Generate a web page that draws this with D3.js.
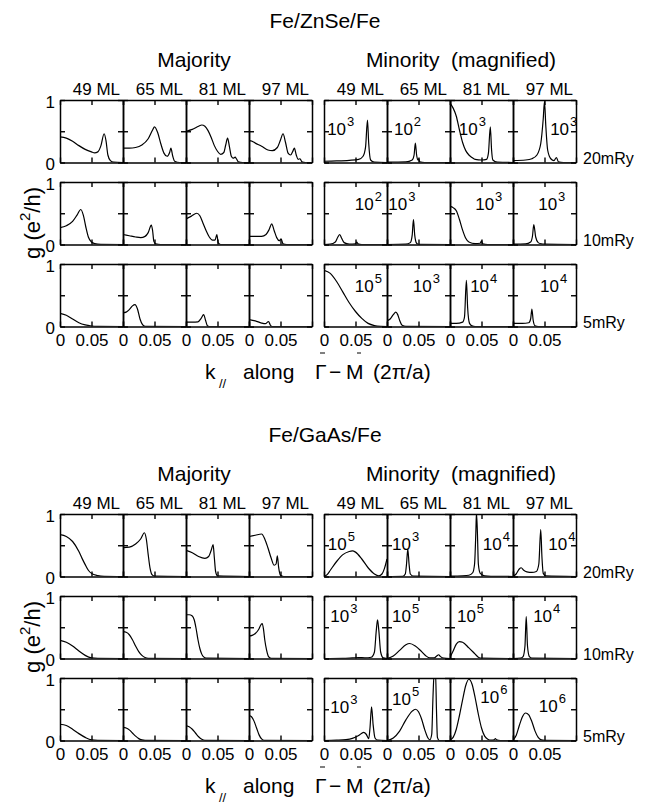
<!DOCTYPE html>
<html><head><meta charset="utf-8">
<script src="https://cdn.jsdelivr.net/npm/d3@7"></script>
<style>
body{margin:0;background:#fff}
svg{display:block}
text{font-family:"Liberation Sans",Arial,Helvetica,sans-serif;fill:#000}
</style>
</head><body>
<svg id="c" width="654" height="804"></svg>
<script>
// ---------- labels ----------
const systems = ["Fe/ZnSe/Fe", "Fe/GaAs/Fe"];
const spins = ["Majority", "Minority  (magnified)"];
const thicknesses = ["49 ML", "65 ML", "81 ML", "97 ML"];
const broadenings = ["20mRy", "10mRy", "5mRy"];
const kTicks = [0, 0.05, 0.1];
const kTickLabels = ["0", "0.05", ""];
const gTicks = [0, 0.5, 1];
const gTickLabels = ["0", "", "1"];

// ---------- Fe/ZnSe/Fe majority : [k, g] ----------
const znseMaj20 = [
 [[0,0.41],[0.01,0.39],[0.02,0.34],[0.03,0.27],[0.04,0.21],[0.05,0.17],[0.055,0.155],[0.06,0.17],[0.065,0.27],[0.07,0.46],[0.073,0.35],[0.076,0.12],[0.08,0.03],[0.085,0.005],[0.1,0]],
 [[0,0.23],[0.01,0.23],[0.02,0.24],[0.03,0.28],[0.04,0.38],[0.047,0.52],[0.05,0.57],[0.055,0.48],[0.06,0.3],[0.065,0.15],[0.07,0.1],[0.074,0.16],[0.076,0.23],[0.079,0.1],[0.082,0.02],[0.09,0],[0.1,0]],
 [[0,0.5],[0.01,0.53],[0.02,0.58],[0.025,0.6],[0.03,0.58],[0.035,0.51],[0.04,0.4],[0.045,0.27],[0.05,0.18],[0.055,0.13],[0.06,0.16],[0.063,0.28],[0.066,0.39],[0.069,0.25],[0.072,0.1],[0.075,0.07],[0.078,0.085],[0.08,0.06],[0.083,0.01],[0.09,0],[0.1,0]],
 [[0,0.35],[0.005,0.34],[0.01,0.31],[0.02,0.26],[0.03,0.2],[0.037,0.19],[0.045,0.24],[0.05,0.36],[0.054,0.46],[0.058,0.32],[0.062,0.15],[0.066,0.12],[0.07,0.19],[0.072,0.23],[0.075,0.12],[0.078,0.05],[0.081,0.06],[0.084,0.01],[0.09,0],[0.1,0]]
];
const znseMaj10 = [
 [[0,0.27],[0.01,0.3],[0.02,0.37],[0.027,0.47],[0.033,0.56],[0.037,0.47],[0.041,0.28],[0.045,0.12],[0.05,0.04],[0.055,0.015],[0.065,0.003],[0.1,0]],
 [[0,0.16],[0.01,0.14],[0.02,0.12],[0.028,0.11],[0.035,0.13],[0.04,0.19],[0.045,0.31],[0.047,0.22],[0.049,0.05],[0.052,0.01],[0.06,0],[0.1,0]],
 [[0,0.41],[0.008,0.45],[0.017,0.5],[0.022,0.46],[0.027,0.34],[0.032,0.22],[0.037,0.12],[0.042,0.07],[0.046,0.07],[0.049,0.16],[0.051,0.03],[0.055,0],[0.1,0]],
 [[0,0.13],[0.01,0.13],[0.02,0.13],[0.027,0.16],[0.032,0.24],[0.036,0.33],[0.04,0.22],[0.044,0.11],[0.048,0.06],[0.051,0.09],[0.054,0.01],[0.06,0],[0.1,0]]
];
const znseMaj5 = [
 [[0,0.21],[0.01,0.18],[0.02,0.12],[0.03,0.06],[0.04,0.025],[0.05,0.008],[0.06,0.002],[0.1,0]],
 [[0,0.22],[0.005,0.23],[0.01,0.27],[0.015,0.33],[0.019,0.35],[0.023,0.28],[0.027,0.12],[0.031,0.03],[0.035,0.003],[0.1,0]],
 [[0,0.07],[0.01,0.07],[0.019,0.075],[0.024,0.13],[0.028,0.19],[0.031,0.1],[0.034,0.01],[0.037,0],[0.1,0]],
 [[0,0.11],[0.01,0.09],[0.02,0.055],[0.026,0.045],[0.031,0.08],[0.034,0.02],[0.037,0],[0.1,0]]
];
// ---------- Fe/ZnSe/Fe minority (magnified) ----------
const znseMin20 = [
 [[0,0.02],[0.02,0.025],[0.04,0.035],[0.055,0.05],[0.062,0.1],[0.066,0.25],[0.069,0.68],[0.071,0.3],[0.074,0.04],[0.08,0.005],[0.1,0]],
 [[0,0.005],[0.03,0.01],[0.04,0.04],[0.043,0.12],[0.045,0.31],[0.047,0.12],[0.049,0.04],[0.0505,0.06],[0.052,0.01],[0.06,0],[0.1,0]],
 [[0,0.95],[0.005,0.87],[0.01,0.74],[0.015,0.52],[0.02,0.32],[0.025,0.19],[0.03,0.12],[0.035,0.08],[0.04,0.05],[0.05,0.04],[0.058,0.05],[0.061,0.15],[0.064,0.57],[0.066,0.2],[0.068,0.04],[0.075,0.005],[0.1,0]],
 [[0,0.03],[0.02,0.04],[0.03,0.06],[0.038,0.12],[0.044,0.3],[0.048,0.7],[0.05,0.98],[0.052,0.6],[0.055,0.2],[0.06,0.06],[0.065,0.03],[0.069,0.08],[0.072,0.01],[0.08,0],[0.1,0]]
];
const znseMin10 = [
 [[0,0],[0.01,0.005],[0.018,0.04],[0.022,0.12],[0.025,0.16],[0.028,0.1],[0.032,0.03],[0.04,0.005],[0.05,0.01],[0.052,0.04],[0.054,0.01],[0.06,0],[0.1,0]],
 [[0,0],[0.03,0.005],[0.037,0.03],[0.04,0.15],[0.042,0.4],[0.044,0.15],[0.047,0.02],[0.05,0.003],[0.1,0]],
 [[0,0.61],[0.005,0.59],[0.01,0.54],[0.015,0.4],[0.02,0.23],[0.025,0.1],[0.03,0.04],[0.04,0.015],[0.048,0.02],[0.05,0.06],[0.052,0.01],[0.06,0],[0.1,0]],
 [[0,0.005],[0.02,0.01],[0.028,0.04],[0.031,0.14],[0.033,0.32],[0.036,0.12],[0.04,0.03],[0.045,0.01],[0.05,0.005],[0.1,0]]
];
const znseMin5 = [
 [[0,0.9],[0.01,0.85],[0.02,0.72],[0.03,0.55],[0.04,0.38],[0.05,0.24],[0.06,0.13],[0.07,0.05],[0.08,0.015],[0.09,0.003],[0.1,0]],
 [[0,0.09],[0.005,0.12],[0.01,0.19],[0.014,0.23],[0.017,0.19],[0.02,0.1],[0.024,0.02],[0.03,0.003],[0.1,0]],
 [[0,0.05],[0.01,0.05],[0.02,0.07],[0.023,0.15],[0.026,0.74],[0.028,0.3],[0.031,0.05],[0.035,0.01],[0.04,0],[0.1,0]],
 [[0,0.05],[0.015,0.05],[0.025,0.06],[0.028,0.12],[0.03,0.28],[0.032,0.1],[0.035,0.01],[0.04,0],[0.1,0]]
];
// ---------- Fe/GaAs/Fe majority ----------
const gaasMaj20 = [
 [[0,0.67],[0.01,0.64],[0.02,0.56],[0.03,0.4],[0.035,0.29],[0.04,0.19],[0.045,0.1],[0.05,0.05],[0.06,0.015],[0.07,0.003],[0.1,0]],
 [[0,0.46],[0.01,0.47],[0.02,0.52],[0.028,0.6],[0.034,0.7],[0.037,0.6],[0.04,0.35],[0.043,0.13],[0.046,0.03],[0.05,0.005],[0.1,0]],
 [[0,0.42],[0.01,0.38],[0.02,0.32],[0.03,0.29],[0.036,0.32],[0.04,0.42],[0.043,0.51],[0.045,0.3],[0.047,0.08],[0.05,0.01],[0.1,0]],
 [[0,0.64],[0.01,0.66],[0.02,0.68],[0.025,0.6],[0.03,0.46],[0.035,0.3],[0.04,0.18],[0.043,0.2],[0.045,0.33],[0.047,0.15],[0.05,0.02],[0.055,0],[0.1,0]]
];
const gaasMaj10 = [
 [[0,0.29],[0.01,0.26],[0.02,0.2],[0.03,0.12],[0.04,0.05],[0.05,0.01],[0.06,0.002],[0.1,0]],
 [[0,0.43],[0.005,0.42],[0.01,0.38],[0.015,0.3],[0.02,0.2],[0.025,0.11],[0.03,0.05],[0.035,0.015],[0.04,0.003],[0.1,0]],
 [[0,0.7],[0.005,0.7],[0.01,0.68],[0.013,0.62],[0.016,0.48],[0.019,0.3],[0.022,0.16],[0.025,0.07],[0.028,0.025],[0.032,0.005],[0.1,0]],
 [[0,0.36],[0.005,0.37],[0.01,0.4],[0.015,0.46],[0.019,0.54],[0.021,0.56],[0.023,0.47],[0.025,0.3],[0.028,0.13],[0.031,0.03],[0.035,0.003],[0.1,0]]
];
const gaasMaj5 = [
 [[0,0.26],[0.01,0.24],[0.02,0.18],[0.03,0.11],[0.04,0.05],[0.05,0.01],[0.06,0.002],[0.1,0]],
 [[0,0.21],[0.005,0.2],[0.01,0.17],[0.015,0.12],[0.02,0.07],[0.025,0.03],[0.03,0.01],[0.035,0.002],[0.1,0]],
 [[0,0.24],[0.005,0.22],[0.01,0.18],[0.015,0.12],[0.02,0.06],[0.025,0.02],[0.03,0.003],[0.1,0]],
 [[0,0.4],[0.004,0.38],[0.008,0.31],[0.012,0.2],[0.016,0.09],[0.02,0.025],[0.024,0.003],[0.1,0]]
];
// ---------- Fe/GaAs/Fe minority (magnified) ----------
const gaasMin20 = [
 [[0,0],[0.005,0.03],[0.01,0.1],[0.02,0.24],[0.03,0.35],[0.04,0.4],[0.045,0.41],[0.05,0.39],[0.06,0.28],[0.07,0.14],[0.08,0.04],[0.087,0.01],[0.092,0.04],[0.096,0.13],[0.1,0.28]],
 [[0,0],[0.025,0.003],[0.029,0.04],[0.031,0.2],[0.033,0.44],[0.035,0.2],[0.037,0.04],[0.042,0.005],[0.1,0]],
 [[0,0.005],[0.02,0.01],[0.03,0.02],[0.036,0.06],[0.039,0.2],[0.041,0.7],[0.042,1.02],[0.0435,0.7],[0.045,0.2],[0.048,0.05],[0.055,0.01],[0.065,0.003],[0.1,0]],
 [[0,0.005],[0.005,0.04],[0.01,0.12],[0.013,0.14],[0.017,0.1],[0.022,0.075],[0.03,0.065],[0.037,0.08],[0.041,0.2],[0.044,0.75],[0.046,0.3],[0.048,0.05],[0.052,0.01],[0.1,0]]
];
const gaasMin10 = [
 [[0,0],[0.03,0.003],[0.045,0.01],[0.055,0.015],[0.065,0.01],[0.075,0.02],[0.08,0.1],[0.083,0.45],[0.085,0.62],[0.087,0.45],[0.09,0.1],[0.094,0.01],[0.1,0]],
 [[0,0],[0.01,0.04],[0.02,0.13],[0.03,0.22],[0.036,0.24],[0.045,0.2],[0.055,0.11],[0.062,0.04],[0.068,0.01],[0.075,0.01],[0.079,0.04],[0.082,0.06],[0.085,0.03],[0.09,0.005],[0.1,0]],
 [[0,0.02],[0.005,0.12],[0.01,0.23],[0.015,0.27],[0.02,0.26],[0.03,0.17],[0.04,0.07],[0.045,0.02],[0.05,0.005],[0.1,0]],
 [[0,0],[0.012,0.005],[0.016,0.03],[0.019,0.2],[0.021,0.67],[0.023,0.2],[0.026,0.03],[0.03,0.005],[0.1,0]]
];
const gaasMin5 = [
 [[0,0],[0.02,0.005],[0.035,0.015],[0.045,0.035],[0.055,0.08],[0.063,0.13],[0.067,0.1],[0.071,0.03],[0.073,0.2],[0.0755,0.54],[0.078,0.25],[0.081,0.04],[0.085,0.005],[0.1,0]],
 [[0,0],[0.01,0.04],[0.02,0.15],[0.03,0.33],[0.04,0.47],[0.045,0.5],[0.05,0.46],[0.055,0.34],[0.06,0.17],[0.065,0.04],[0.068,0.01],[0.071,0.1],[0.073,0.7],[0.075,1.1],[0.077,1.1],[0.0785,0.5],[0.08,0.05],[0.083,0],[0.1,0]],
 [[0,0.01],[0.005,0.05],[0.01,0.18],[0.015,0.4],[0.02,0.65],[0.025,0.88],[0.03,0.98],[0.035,0.9],[0.04,0.68],[0.045,0.42],[0.05,0.2],[0.055,0.07],[0.06,0.02],[0.065,0.005],[0.07,0.01],[0.072,0.03],[0.074,0.01],[0.08,0],[0.1,0]],
 [[0,0.01],[0.005,0.08],[0.01,0.24],[0.015,0.38],[0.02,0.44],[0.025,0.41],[0.03,0.3],[0.035,0.15],[0.04,0.05],[0.045,0.01],[0.05,0.002],[0.1,0]]
];

// magnification exponents (10^n) of minority panels, by row
const znseMinExp = [["3","2","3","3"], ["2","3","3","3"], ["5","3","4","4"]];
const gaasMinExp = [["5","3","4","4"], ["3","5","5","4"], ["3","5","6","6"]];
// anchor of each magnification label in data coordinates [k, g]
const znseMinExpAt = [
 [[0.005,0.44],[0.011,0.44],[0.014,0.44],[0.059,0.44]],
 [[0.049,0.55],[0.002,0.55],[0.04,0.55],[0.04,0.55]],
 [[0.049,0.55],[0.041,0.55],[0.032,0.55],[0.043,0.55]]
];
const gaasMinExpAt = [
 [[0.006,0.43],[0.008,0.43],[0.052,0.43],[0.056,0.43]],
 [[0.01,0.58],[0.008,0.58],[0.011,0.58],[0.032,0.58]],
 [[0.01,0.44],[0.008,0.57],[0.048,0.6],[0.041,0.46]]
];

// ---------- assembled per system ----------
const sections = [
  {maj:[znseMaj20, znseMaj10, znseMaj5], min:[znseMin20, znseMin10, znseMin5], exp:znseMinExp, expAt:znseMinExpAt},
  {maj:[gaasMaj20, gaasMaj10, gaasMaj5], min:[gaasMin20, gaasMin10, gaasMin5], exp:gaasMinExp, expAt:gaasMinExpAt}
];

// ---------- layout ----------
const PW = 63, PH = 62.5;
const colX0 = [60, 324];
const rowTop0 = 100, rowPitch = 82, sectionPitch = 414;
const FONT = '"Liberation Sans",Arial,Helvetica,sans-serif';

const svg = d3.select("#c");
const x = d3.scaleLinear().domain([0, 0.1]).range([0, PW]);
const y = d3.scaleLinear().domain([0, 1]).range([PH, 0]);
const line = d3.line().x(d => x(d[0])).y(d => y(d[1])).curve(d3.curveMonotoneX);

svg.append("defs").append("clipPath").attr("id","pclip")
  .append("rect").attr("x",0).attr("y",0).attr("width",PW).attr("height",PH);

function styleAxis(g){
  g.selectAll(".domain").attr("stroke","#000").attr("stroke-width",1.5);
  g.selectAll(".tick line").attr("stroke","#000").attr("stroke-width",1.4);
  g.selectAll("text").attr("font-family",FONT).attr("font-size",17).attr("fill","#000");
}

sections.forEach((sec, s) => {
  const oy = s * sectionPitch;
  // titles
  svg.append("text").attr("x",325).attr("y",28+oy).attr("text-anchor","middle")
     .attr("font-size",21).text(systems[s]);
  svg.append("text").attr("x",194).attr("y",67+oy).attr("text-anchor","middle")
     .attr("font-size",21).text(spins[0]);
  svg.append("text").attr("x",461).attr("y",67+oy).attr("text-anchor","middle")
     .attr("font-size",21).attr("xml:space","preserve").style("white-space","pre").text(spins[1]);

  [sec.maj, sec.min].forEach((rows, side) => {
    // thickness headers
    thicknesses.forEach((t, c) => {
      svg.append("text").attr("x", colX0[side] + (c+1)*PW - 3).attr("y", rowTop0 + oy - 5)
        .attr("text-anchor","end").attr("font-size",17).text(t);
    });
    rows.forEach((panels, r) => {
      panels.forEach((pts, c) => {
        const g = svg.append("g")
          .attr("transform", `translate(${colX0[side] + c*PW},${rowTop0 + r*rowPitch + oy})`);
        g.append("path").datum(pts).attr("d", line).attr("fill","none")
          .attr("stroke","#000").attr("stroke-width",1.2).attr("clip-path","url(#pclip)");
        const isBottom = r === rows.length - 1;
        const isLeft = side === 0 && c === 0;
        const ab = d3.axisBottom(x).tickValues(kTicks).tickSizeInner(-5).tickSizeOuter(0).tickPadding(7)
          .tickFormat((d,i) => isBottom ? kTickLabels[i] : "");
        g.append("g").attr("transform",`translate(0,${PH})`).call(ab).call(styleAxis);
        const at = d3.axisTop(x).tickValues(kTicks).tickSizeInner(-5).tickSizeOuter(0).tickFormat("");
        g.append("g").call(at).call(styleAxis);
        const al = d3.axisLeft(y).tickValues(gTicks).tickSizeInner(-5).tickSizeOuter(0).tickPadding(5)
          .tickFormat((d,i) => isLeft ? gTickLabels[i] : "");
        const gl = g.append("g").call(al).call(styleAxis);
        gl.selectAll("text").attr("dy","0.42em");
        const ar = d3.axisRight(y).tickValues(gTicks).tickSizeInner(-5).tickSizeOuter(0).tickFormat("");
        g.append("g").attr("transform",`translate(${PW},0)`).call(ar).call(styleAxis);
        if (side === 1) {
          const a = sec.expAt[r][c];
          const t = g.append("text").attr("x", x(a[0])).attr("y", y(a[1])).attr("font-size",17);
          t.append("tspan").text("10");
          t.append("tspan").attr("dy",-9).attr("dx",1).attr("font-size",13).text(sec.exp[r][c]);
        }
      });
      if (side === 1) {
        svg.append("text").attr("x", 583).attr("y", rowTop0 + r*rowPitch + oy + PH + 1)
          .attr("font-size",16).text(broadenings[r]);
      }
    });
  });

  // y axis title
  const yt = svg.append("text").attr("transform",`translate(40,${223+oy}) rotate(-90)`)
    .attr("text-anchor","middle").attr("font-size",22);
  yt.append("tspan").text("g (e");
  yt.append("tspan").attr("font-size",15).attr("dy",-10).text("2");
  yt.append("tspan").attr("dy",10).text("/h)");

  // x axis title
  const by = 379 + oy;
  svg.append("text").attr("x",205).attr("y",by).attr("font-size",21).text("k");
  svg.append("text").attr("x",219).attr("y",by+9).attr("font-size",13).text("//");
  svg.append("text").attr("x",243).attr("y",by).attr("font-size",21).text("along");
  svg.append("text").attr("x",315).attr("y",by).attr("font-size",21)
    .attr("font-family",'"Liberation Serif","Times New Roman",serif').text("Γ");
  svg.append("text").attr("x",329).attr("y",by).attr("font-size",21).text("−");
  svg.append("text").attr("x",346).attr("y",by).attr("font-size",21).text("M");
  svg.append("text").attr("x",373).attr("y",by).attr("font-size",21).text("(2π/a)");
  svg.append("line").attr("x1",320).attr("x2",325).attr("y1",by-26).attr("y2",by-26)
    .attr("stroke","#000").attr("stroke-width",1);
  svg.append("line").attr("x1",357).attr("x2",361).attr("y1",by-26).attr("y2",by-26)
    .attr("stroke","#000").attr("stroke-width",1);
});
</script>
</body></html>
